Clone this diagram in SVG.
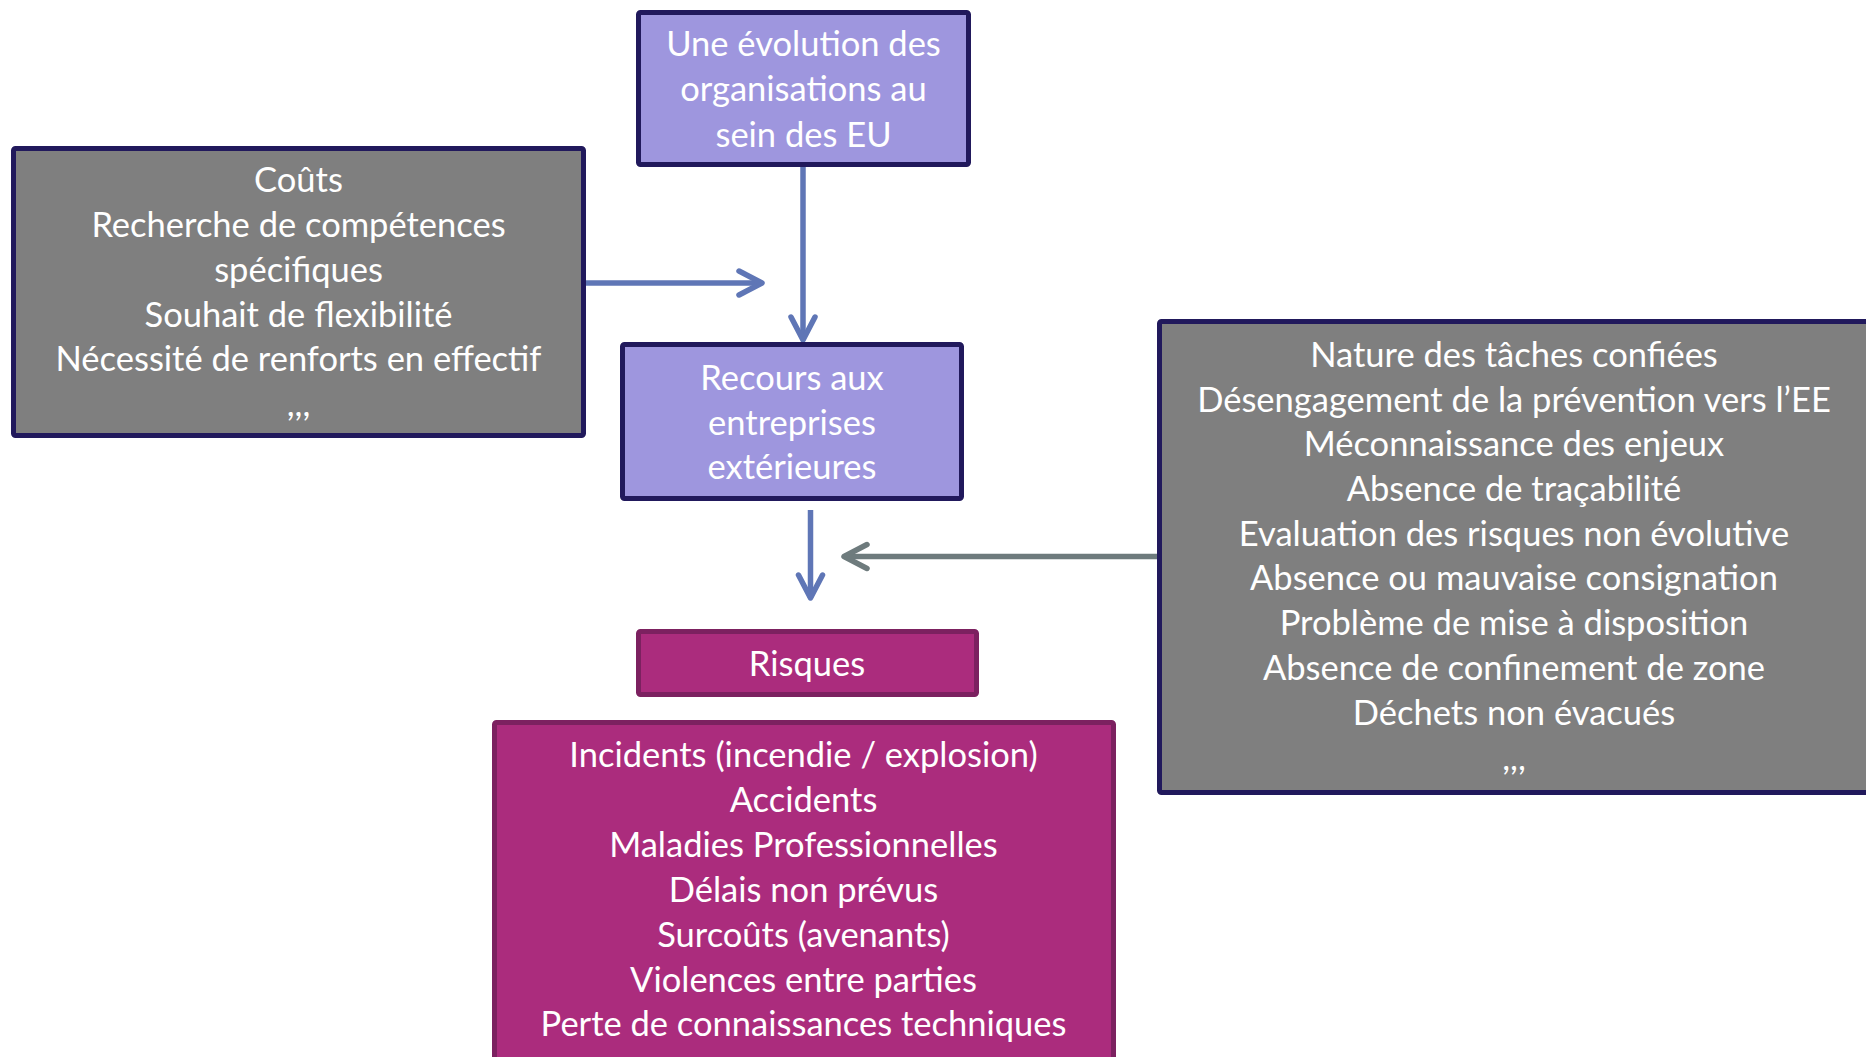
<svg xmlns="http://www.w3.org/2000/svg" width="1866" height="1057" viewBox="0 0 1866 1057">
<style>
.t{font-family:Lato,"Open Sans","Liberation Sans",sans-serif;font-size:34.5px;fill:#ffffff;text-anchor:middle}
.purple{fill:#9e96de;stroke:#21195c;stroke-width:5}
.gray{fill:#7f7f7f;stroke:#21195c;stroke-width:5}
.mag{fill:#ab2c7d;stroke:#7c2160;stroke-width:5}
.cb{fill:none;stroke:#5f76b6;stroke-width:5.5}
.cg{fill:none;stroke:#6e7b7d;stroke-width:5.5}
</style>
<defs>
<marker id="ab" markerUnits="userSpaceOnUse" viewBox="-30 -16 34 32" markerWidth="34" markerHeight="32" refX="0" refY="0" orient="auto">
<path d="M-23,-12 L0,0 L-23,12" fill="none" stroke="#5f76b6" stroke-width="5.5" stroke-linecap="round" stroke-linejoin="round"/>
</marker>
<marker id="ag" markerUnits="userSpaceOnUse" viewBox="-30 -16 34 32" markerWidth="34" markerHeight="32" refX="0" refY="0" orient="auto">
<path d="M-23,-12 L0,0 L-23,12" fill="none" stroke="#6e7b7d" stroke-width="5.5" stroke-linecap="round" stroke-linejoin="round"/>
</marker>
</defs>
<rect width="1866" height="1057" fill="#ffffff"/>
<g id="connectors">
<line class="cb" x1="803" y1="167" x2="803" y2="340" marker-end="url(#ab)"/>
<line class="cb" x1="586" y1="283" x2="762" y2="283" marker-end="url(#ab)"/>
<line class="cb" x1="810.5" y1="510" x2="810.5" y2="598" marker-end="url(#ab)"/>
<line class="cg" x1="1157" y1="556.5" x2="844" y2="556.5" marker-end="url(#ag)"/>
</g>
<g id="evolution">
<rect class="purple" x="638.5" y="12.5" width="330" height="152" rx="2"/>
<text class="t" x="803.5" y="55.5">Une évolution des</text>
<text class="t" x="803.5" y="100.5">organisations au</text>
<text class="t" x="803.5" y="146.5">sein des EU</text>
</g>
<g id="causes">
<rect class="gray" x="13.5" y="148.5" width="570" height="287" rx="2"/>
<text class="t" x="298.5" y="191.5">Coûts</text>
<text class="t" x="298.5" y="236.5">Recherche de compétences</text>
<text class="t" x="298.5" y="281.5">spécifiques</text>
<text class="t" x="298.5" y="326.5">Souhait de flexibilité</text>
<text class="t" x="298.5" y="370.5">Nécessité de renforts en effectif</text>
<text class="t" x="298.5" y="415.5">,,,</text>
</g>
<g id="recours">
<rect class="purple" x="622.5" y="344.5" width="339" height="154" rx="2"/>
<text class="t" x="792" y="389.5">Recours aux</text>
<text class="t" x="792" y="434.5">entreprises</text>
<text class="t" x="792" y="478.5">extérieures</text>
</g>
<g id="facteurs">
<rect class="gray" x="1159.5" y="321.5" width="720" height="471" rx="2"/>
<text class="t" x="1514" y="366.5">Nature des tâches confiées</text>
<text class="t" x="1514" y="411.5">Désengagement de la prévention vers l’EE</text>
<text class="t" x="1514" y="455.5">Méconnaissance des enjeux</text>
<text class="t" x="1514" y="500.5">Absence de traçabilité</text>
<text class="t" x="1514" y="545.5">Evaluation des risques non évolutive</text>
<text class="t" x="1514" y="589.5">Absence ou mauvaise consignation</text>
<text class="t" x="1514" y="634.5">Problème de mise à disposition</text>
<text class="t" x="1514" y="679.5">Absence de confinement de zone</text>
<text class="t" x="1514" y="724.5">Déchets non évacués</text>
<text class="t" x="1514" y="769.5">,,,</text>
</g>
<g id="risques">
<rect class="mag" x="638.5" y="631.5" width="338" height="63" rx="2"/>
<text class="t" x="807" y="675.5">Risques</text>
</g>
<g id="consequences">
<rect class="mag" x="494.5" y="722.5" width="619" height="400" rx="2"/>
<text class="t" x="803.5" y="766.5">Incidents (incendie / explosion)</text>
<text class="t" x="803.5" y="811.5">Accidents</text>
<text class="t" x="803.5" y="856.5">Maladies Professionnelles</text>
<text class="t" x="803.5" y="901.5">Délais non prévus</text>
<text class="t" x="803.5" y="946.5">Surcoûts (avenants)</text>
<text class="t" x="803.5" y="991.5">Violences entre parties</text>
<text class="t" x="803.5" y="1035.5">Perte de connaissances techniques</text>
</g>
</svg>
